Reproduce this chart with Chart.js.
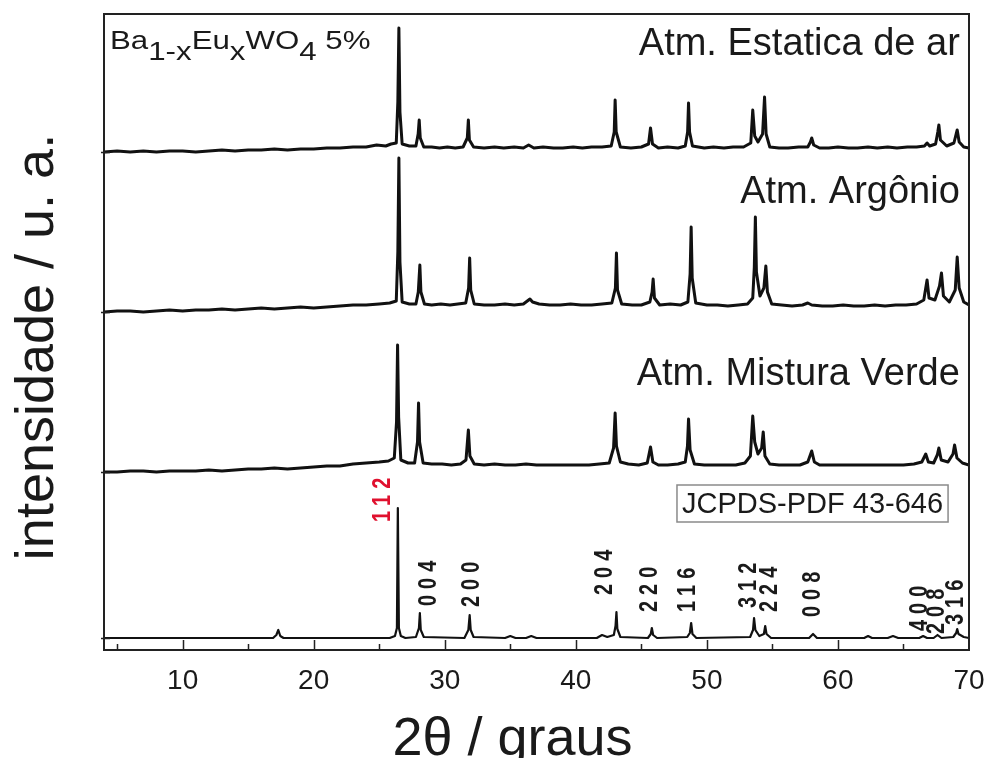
<!DOCTYPE html>
<html>
<head>
<meta charset="utf-8">
<script src="https://cdn.jsdelivr.net/npm/chart.js@4"></script>
<style>
  html, body { margin: 0; padding: 0; background: #fff; }
  #wrap { width: 989px; height: 758px; position: relative; }
</style>
</head>
<body>
<div id="wrap"><canvas id="xrdChart"></canvas></div>
<script>
// XRD patterns, [2theta, intensity above own baseline]
const estatica = [[4,0],[5,1],[6,0],[7,1],[8,0],[9,1],[10,1],[11,0],[12,1],[13,2],[14,1],[15,2],[16,2],[17,3],[18,2],[19,3],[20,3],[21,4],[22,4],[23,5],[24,5],[24.8,7],[25.5,6],[25.9,8],[26.3,9],[26.42,50],[26.5,124],[26.58,40],[26.75,8],[27.3,6],[27.8,6],[27.97,18],[28.05,32],[28.13,14],[28.4,5],[29,5],[29.6,4],[30.2,5],[30.8,4],[31.4,5],[31.72,14],[31.8,32],[31.88,12],[32.2,5],[33,4],[33.8,5],[34.5,4],[35.3,5],[36,4],[36.4,7],[36.8,4],[37.5,5],[38.3,4],[39,4],[39.8,5],[40.5,4],[41.2,5],[42,5],[42.7,6],[42.93,20],[43.0,52],[43.08,20],[43.4,5],[44.2,4],[45,5],[45.55,8],[45.7,24],[45.85,8],[46.3,4],[47,5],[47.8,4],[48.35,6],[48.53,20],[48.6,49],[48.68,20],[48.9,6],[49.8,4],[50.5,5],[51.3,4],[52,5],[52.8,5],[53.35,9],[53.5,42],[53.65,16],[53.9,10],[54.25,18],[54.4,55],[54.52,18],[54.8,5],[55.5,4],[56.2,4],[57,5],[57.7,5],[57.9,10],[58.0,14],[58.15,7],[58.6,4],[59.3,4],[60,5],[60.8,4],[61.5,4],[62.3,5],[63,4],[63.8,5],[64.5,4],[65.3,5],[66,5],[66.6,6],[66.8,9],[67,6],[67.45,8],[67.62,20],[67.7,27],[67.82,12],[68.3,6],[68.85,9],[69.02,18],[69.1,22],[69.25,10],[69.6,5],[70,4]];

const argonio = [[4,0],[5,1],[6,1],[7,0],[8,1],[9,2],[10,1],[11,2],[12,2],[13,3],[14,2],[15,3],[16,4],[17,3],[18,4],[19,5],[20,4],[21,5],[22,6],[23,7],[24,7],[25,8],[25.8,9],[26.3,11],[26.42,60],[26.5,154],[26.58,50],[26.75,10],[27.3,8],[27.8,8],[27.98,20],[28.1,47],[28.18,20],[28.45,8],[29,7],[29.7,8],[30.4,7],[31,8],[31.6,9],[31.82,24],[31.9,54],[31.98,22],[32.25,8],[33,7],[33.8,7],[34.6,8],[35.3,7],[36,8],[36.3,11],[36.5,13],[36.7,10],[37.2,8],[38,7],[38.8,7],[39.6,8],[40.4,7],[41.2,7],[42,8],[42.75,9],[43.02,24],[43.1,59],[43.18,22],[43.5,8],[44.3,7],[45,7],[45.65,10],[45.82,20],[45.9,33],[46.0,14],[46.4,7],[47.2,8],[48,7],[48.55,10],[48.72,38],[48.8,85],[48.88,34],[49.15,9],[50,7],[50.8,7],[51.6,6],[52.4,7],[53.1,8],[53.5,14],[53.62,45],[53.7,95],[53.78,40],[54.05,16],[54.35,24],[54.5,46],[54.62,20],[54.95,8],[55.7,7],[56.5,6],[57.3,7],[57.7,9],[58,7],[58.8,6],[59.6,6],[60.4,7],[61.2,6],[62,6],[62.8,7],[63.6,6],[64.4,7],[65.2,7],[66,8],[66.55,12],[66.8,32],[66.95,14],[67.4,12],[67.75,26],[67.9,39],[68.05,16],[68.5,10],[68.95,22],[69.1,55],[69.25,24],[69.6,10],[70,7]];

const mistura = [[4,0],[5,0],[6,1],[7,1],[8,0],[9,1],[10,1],[11,1],[12,2],[13,1],[14,2],[15,3],[16,3],[17,4],[18,3],[19,4],[20,5],[21,6],[22,6],[23,8],[24,9],[25,10],[25.7,11],[26.15,14],[26.32,50],[26.4,127],[26.48,55],[26.65,12],[27.2,9],[27.7,9],[27.92,30],[28.0,69],[28.08,30],[28.35,9],[29,8],[29.8,8],[30.5,7],[31.2,8],[31.62,12],[31.8,42],[31.92,16],[32.25,8],[33,7],[33.8,8],[34.6,7],[35.4,7],[36.2,8],[37,7],[37.8,7],[38.6,7],[39.4,7],[40.2,7],[41,7],[41.8,8],[42.55,9],[42.88,24],[43.0,59],[43.1,26],[43.4,10],[44,8],[44.8,7],[45.45,9],[45.7,25],[45.88,10],[46.3,7],[47,7],[47.8,8],[48.35,10],[48.52,26],[48.6,53],[48.72,22],[49.05,8],[49.8,7],[50.6,7],[51.4,7],[52.2,7],[52.9,9],[53.32,16],[53.5,56],[53.65,30],[53.9,18],[54.18,24],[54.3,40],[54.43,16],[54.8,8],[55.5,7],[56.3,7],[57.1,7],[57.7,10],[58.0,21],[58.2,10],[58.6,7],[59.4,7],[60.2,7],[61,7],[61.8,7],[62.6,7],[63.4,7],[64.2,7],[65,7],[65.8,8],[66.4,10],[66.7,18],[66.9,10],[67.3,9],[67.58,17],[67.7,24],[67.88,12],[68.4,10],[68.78,18],[68.9,27],[69.08,14],[69.5,9],[70,7]];

const jcpds = [[4,0],[10,0],[16.9,0],[17.15,3],[17.3,8],[17.45,2],[17.7,0],[25.8,0],[26.2,2],[26.35,10],[26.42,130],[26.5,10],[26.65,2],[27,0],[27.8,1],[28.03,10],[28.1,25],[28.17,8],[28.4,1],[31.5,0],[31.8,8],[31.9,23],[31.98,8],[32.2,1],[34.6,0],[35,2],[35.4,0],[36.2,0],[36.6,2],[37,0],[41.6,0],[42,3],[42.4,1],[42.9,3],[43.03,12],[43.1,26],[43.17,9],[43.4,1],[45.5,0],[45.72,4],[45.8,10],[45.9,3],[46.2,0],[48.5,1],[48.7,5],[48.8,15],[48.9,4],[49.2,0],[53.3,1],[53.52,8],[53.6,20],[53.7,8],[54.0,2],[54.35,4],[54.45,12],[54.55,4],[54.9,0],[57.8,0],[58.1,4],[58.4,0],[62,0],[62.3,2],[62.6,0],[63.8,0],[64.2,2],[64.6,0],[66.2,0],[66.5,2],[66.8,0],[67.3,0],[67.6,3],[67.9,0],[68.8,1],[69.02,5],[69.1,9],[69.2,4],[69.6,1],[70,0]];

const seriesNames = ["Atm. Estatica de ar", "Atm. Argônio", "Atm. Mistura Verde", "JCPDS-PDF 43-646"];
const offsets = [498, 338, 178, 12];
// where each pattern name sits (2theta of right edge, intensity of baseline)
const nameX = [69.3, 69.3, 69.3];
const nameY = [595, 447, 265];
// reference card label (2theta of left edge, intensity of baseline)
const cardX = 48.1;
const cardY = 137;

// Miller indices for the reference pattern
const hklLabels = ["112", "004", "200", "204", "220", "116", "312", "224", "008", "400", "208", "316"];
const hklX = [25.3, 28.8, 32.1, 42.2, 45.7, 48.6, 53.2, 54.8, 58.1, 66.3, 67.6, 69.0];
const hklY = [128, 44, 43, 55, 38, 38, 42, 38, 33, 19, 16, 25];

const xTicks = [10, 20, 30, 40, 50, 60, 70];

const FONT = "'Liberation Sans', Arial, Helvetica, sans-serif";
const INK = "#1a1a1a";

const annotations = {
    id: "annotations",
    afterDraw(chart) {
        const { ctx, chartArea: a, scales: { x, y } } = chart;
        ctx.save();
        ctx.strokeStyle = "#222";
        ctx.fillStyle = INK;

        // frame
        ctx.lineWidth = 2;
        ctx.strokeRect(a.left, a.top, a.right - a.left, a.bottom - a.top);

        // inward ticks on the 2theta axis
        ctx.lineWidth = 1.5;
        ctx.beginPath();
        for (let v = 5; v < 70; v += 5) {
            const px = Math.round(x.getPixelForValue(v)) + 0.5;
            const len = v % 10 === 0 ? 10 : 6;
            ctx.moveTo(px, a.bottom);
            ctx.lineTo(px, a.bottom - len);
        }
        // baseline ticks on the left axis
        offsets.forEach(o => {
            const py = Math.round(y.getPixelForValue(o)) + 0.5;
            ctx.moveTo(a.left - 3, py);
            ctx.lineTo(a.left + 6, py);
        });
        ctx.stroke();

        // sample formula
        ctx.save();
        ctx.translate(a.left + 6, a.top + 35);
        ctx.scale(1.25, 1);
        ctx.font = "25px " + FONT;
        ctx.textBaseline = "alphabetic";
        let cx = 0;
        [["Ba", 0], ["1-x", 1], ["Eu", 0], ["x", 1], ["WO", 0], ["4", 1], [" 5%", 0]].forEach(([t, sub]) => {
            ctx.fillText(t, cx, sub ? 11 : 0);
            cx += ctx.measureText(t).width;
        });
        ctx.restore();

        // pattern names
        ctx.font = "38px " + FONT;
        ctx.textAlign = "right";
        ctx.textBaseline = "alphabetic";
        nameX.forEach((v, i) => {
            ctx.fillText(seriesNames[i], x.getPixelForValue(v), y.getPixelForValue(nameY[i]));
        });

        // reference card box
        ctx.font = "29px " + FONT;
        ctx.textAlign = "left";
        const bx = x.getPixelForValue(cardX), by = y.getPixelForValue(cardY);
        const tw = ctx.measureText(seriesNames[3]).width;
        ctx.strokeStyle = "#8a8a8a";
        ctx.lineWidth = 1.5;
        ctx.strokeRect(bx - 5, by - 28, tw + 10, 37);
        ctx.fillText(seriesNames[3], bx, by);

        // hkl labels, rotated
        ctx.font = "bold 20px " + FONT;
        ctx.textBaseline = "middle";
        ctx.textAlign = "left";
        if ("letterSpacing" in ctx) ctx.letterSpacing = "6px";
        hklLabels.forEach((t, i) => {
            ctx.save();
            ctx.translate(x.getPixelForValue(hklX[i]), y.getPixelForValue(hklY[i]));
            ctx.scale(1.25, 1);
            ctx.rotate(-Math.PI / 2);
            ctx.fillStyle = i === 0 ? "#e0102e" : INK;
            ctx.fillText(t, 0, 0);
            ctx.restore();
        });
        if ("letterSpacing" in ctx) ctx.letterSpacing = "0px";

        // axis titles
        ctx.fillStyle = INK;
        ctx.font = "54px " + FONT;
        ctx.textAlign = "center";
        ctx.textBaseline = "alphabetic";
        ctx.fillText("2θ / graus", (a.left + a.right) / 2 - 24, chart.height - 3);
        ctx.save();
        ctx.translate(a.left - 51, (a.top + a.bottom) / 2 + 15);
        ctx.rotate(-Math.PI / 2);
        ctx.fillText("intensidade / u. a.", 0, 0);
        ctx.restore();

        ctx.restore();
    }
};

const datasets = [estatica, argonio, mistura, jcpds].map((s, i) => ({
    label: seriesNames[i],
    data: s.map(p => ({ x: p[0], y: p[1] + offsets[i] })),
    borderColor: "#111",
    borderWidth: i === 3 ? 2.2 : 3,
    borderJoinStyle: "round",
    pointRadius: 0,
    tension: 0,
    fill: false
}));

new Chart(document.getElementById("xrdChart"), {
    type: "line",
    data: { datasets },
    options: {
        responsive: true,
        maintainAspectRatio: false,
        animation: false,
        layout: { padding: { left: 104, top: 14, right: 20, bottom: 0 } },
        plugins: { legend: { display: false }, tooltip: { enabled: false } },
        scales: {
            x: {
                type: "linear",
                min: 4,
                max: 70,
                afterFit: s => { s.height = 108; s.paddingLeft = 0; s.paddingRight = 0; },
                afterBuildTicks: s => { s.ticks = xTicks.map(v => ({ value: v })); },
                grid: { display: false, drawTicks: false },
                border: { display: false },
                ticks: { color: INK, padding: 14, maxRotation: 0, font: { size: 28, family: FONT } }
            },
            y: {
                display: false,
                min: 0,
                max: 636
            }
        }
    },
    plugins: [annotations]
});
</script>
</body>
</html>
